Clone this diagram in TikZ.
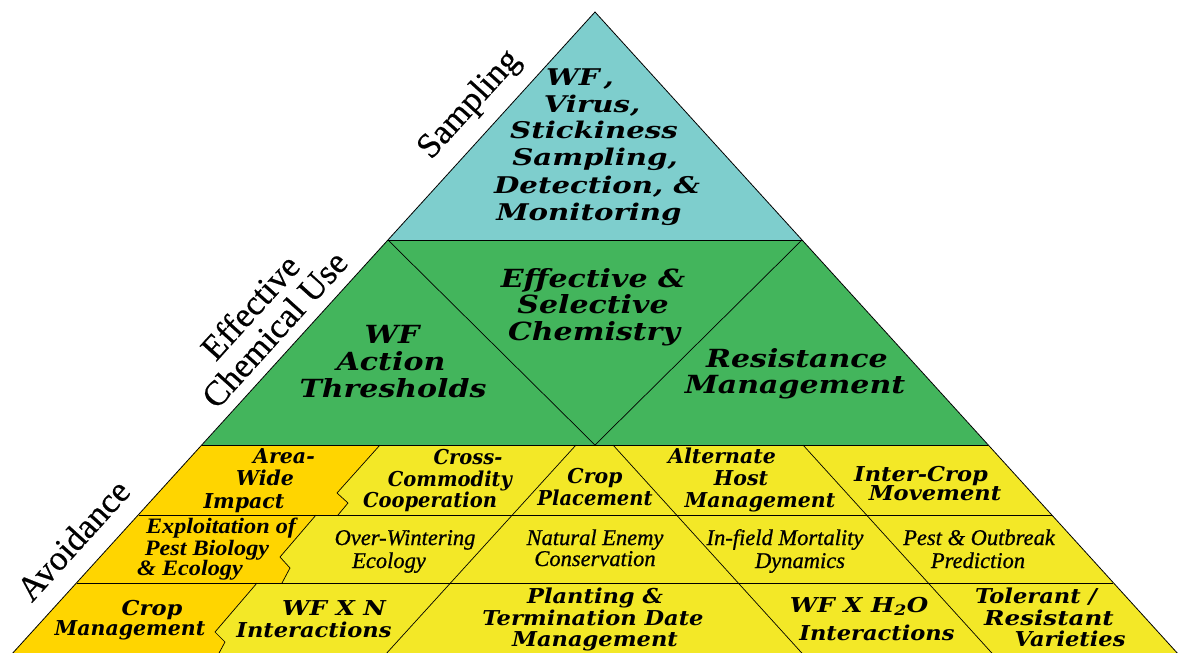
\documentclass[tikz,border=0pt]{standalone}
\usepackage{fontspec}
\newfontfamily\bkn{DejaVu Serif}[FakeStretch=0.95]
\newfontfamily\bkf{DejaVu Serif}
\newfontfamily\bkm{DejaVu Serif}[FakeStretch=1.1]
\newfontfamily\bkw{DejaVu Serif}[FakeStretch=1.2]
\newfontfamily\bkx{DejaVu Serif}[FakeStretch=1.27]
\newfontfamily\tms{Liberation Serif}[FakeBold=0.4]
\newfontfamily\tmsi{Liberation Serif}[FakeBold=0.7]
\newfontfamily\tmse{Liberation Serif}[FakeStretch=1.1]
\definecolor{cyanfill}{RGB}{126,206,205}
\definecolor{greenfill}{RGB}{67,181,92}
\definecolor{yellowfill}{RGB}{243,232,39}
\definecolor{goldfill}{RGB}{255,213,0}
\tikzset{
  edge/.style={draw=black, line width=0.8pt, line join=miter},
  thin/.style={draw=black, line width=0.7pt},
  lbl/.style={anchor=base, inner sep=0pt},
  bkA/.style={lbl, font=\bkx\bfseries\itshape\fontsize{23}{23}\selectfont},
  bkB/.style={lbl, font=\bkw\bfseries\itshape\fontsize{25}{25}\selectfont},
  bkC/.style={lbl, font=\bkf\bfseries\itshape\fontsize{20.5}{20.5}\selectfont},
  bkCn/.style={lbl, font=\bkn\bfseries\itshape\fontsize{20.5}{20.5}\selectfont},
  bkCm/.style={lbl, font=\bkm\bfseries\itshape\fontsize{20.5}{20.5}\selectfont},
  bkCw/.style={lbl, font=\bkw\bfseries\itshape\fontsize{20.5}{20.5}\selectfont},
  tiA/.style={lbl, font=\tmsi\itshape\fontsize{22.5}{22.5}\selectfont},
  tiB/.style={lbl, font=\tmse\bfseries\itshape\fontsize{22}{22}\selectfont},
  side/.style={anchor=center, inner sep=0pt, align=center, rotate=47.8, font=\tms\fontsize{35}{33}\selectfont},
}
\begin{document}
\begin{tikzpicture}[x=1pt,y=-1pt]
\clip (0,0) rectangle (1184,653);
\fill[white] (0,0) rectangle (1184,653);
% regions
\fill[cyanfill] (595,12) -- (802,240) -- (388,240) -- cycle;
\fill[greenfill] (388,240) -- (802,240) -- (988,445) -- (202,445) -- cycle;
\fill[yellowfill] (202,445) -- (988,445) -- (1179,655) -- (11,655) -- cycle;
\fill[goldfill] (202,445) -- (380,445) -- (337,493) -- (348,503) -- (338,515) -- (138.5,515) -- cycle;
\fill[goldfill] (138.5,515) -- (316,515) -- (280,557) -- (290,568) -- (282,583) -- (77,583) -- cycle;
\fill[goldfill] (77,583) -- (257,583) -- (215,632) -- (225,642) -- (218,655) -- (11,655) -- cycle;
% lines
\draw[thin] (388,240) -- (802,240);
\draw[thin] (388,240) -- (595,445) -- (802,240);
\draw[thin] (202,445) -- (988,445);
\draw[thin] (138.5,515) -- (1051.5,515);
\draw[thin] (77,583) -- (1113,583);
\draw[thin] (380,445) -- (337,493) -- (348,503) -- (338,515);
\draw[thin] (316,515) -- (280,557) -- (290,568) -- (282,583);
\draw[thin] (257,583) -- (215,632) -- (225,642) -- (218,655);
\draw[thin] (576,445) -- (385,655);
\draw[thin] (613,445) -- (803.6,655);
\draw[thin] (803,445) -- (993.6,655);
\draw[edge] (11,655) -- (595,12) -- (1179,655);
% side labels
\node[side] (lsamp) at (470,105) {Sampling};
\node[side] (lchem) at (262,318) {Effective\\Chemical Use};
\node[side] (lavoid) at (73,540) {Avoidance};
% cyan
\node[bkA] (c1) at (580,85) {WF\hspace{4pt},};
\node[bkA] (c2) at (592,112) {Virus,};
\node[bkA] (c3) at (594,138) {Stickiness};
\node[bkA] (c4) at (595,165) {Sampling,};
\node[bkA] (c5) at (597,193) {Detection, \&};
\node[bkA] (c6) at (589,220) {Monitoring};
% green
\node[bkB] (g1) at (392,343) {WF};
\node[bkB] (g2) at (391,370) {Action};
\node[bkB] (g3) at (393,397) {Thresholds};
\node[bkB] (g4) at (593,287) {Effective \&};
\node[bkB] (g5) at (593,313) {Selective};
\node[bkB] (g6) at (594,340) {Chemistry};
\node[bkB] (g7) at (797,367) {Resistance};
\node[bkB] (g8) at (795,393) {Management};
% row 1
\node[bkC] (a1) at (284,463) {Area-};
\node[bkC] (a2) at (265,485) {Wide};
\node[bkC] (a3) at (244,508) {Impact};
\node[bkCn] (b1) at (468,464) {Cross-};
\node[bkCn] (b2) at (450,486) {Commodity};
\node[bkCn] (b3) at (430,507) {Cooperation};
\node[bkC] (p1) at (595,483) {Crop};
\node[bkCn] (p2) at (595,505) {Placement};
\node[bkC] (h1) at (722,463) {Alternate};
\node[bkC] (h2) at (741,485) {Host};
\node[bkC] (h3) at (760,507) {Management};
\node[bkCm] (m1) at (921,481) {Inter-Crop};
\node[bkCm] (m2) at (935,500) {Movement};
% row 2
\node[tiB] (e1) at (221,533) {Exploitation of};
\node[tiB] (e2) at (207,555) {Pest Biology};
\node[tiB] (e3) at (190,575) {\& Ecology};
\node[tiA] (o1) at (405,545) {Over-Wintering};
\node[tiA] (o2) at (389,568) {Ecology};
\node[tiA] (n1) at (595,545) {Natural Enemy};
\node[tiA] (n2) at (595,566) {Conservation};
\node[tiA] (f1) at (785,545) {In-field Mortality};
\node[tiA] (f2) at (800,568) {Dynamics};
\node[tiA] (q1) at (979,545) {Pest \& Outbreak};
\node[tiA] (q2) at (978,568) {Prediction};
% row 3
\node[bkCm] (r1) at (152,615) {Crop};
\node[bkC] (r2) at (130,635) {Management};
\node[bkCw] (x1) at (334,615) {WF X N};
\node[bkCm] (x2) at (314,637) {Interactions};
\node[bkCm] (d1) at (595,603) {Planting \&};
\node[bkCm] (d2) at (593,625) {Termination Date};
\node[bkCm] (d3) at (595,646) {Management};
\node[bkCw] (w1) at (859,612) {WF X H\textsubscript{2}O};
\node[bkCm] (w2) at (877,640) {Interactions};
\node[bkCm] (v1) at (1036,603) {Tolerant /};
\node[bkCw] (v2) at (1049,625) {Resistant};
\node[bkCm] (v3) at (1070,646) {Varieties};
\end{tikzpicture}
\end{document}
